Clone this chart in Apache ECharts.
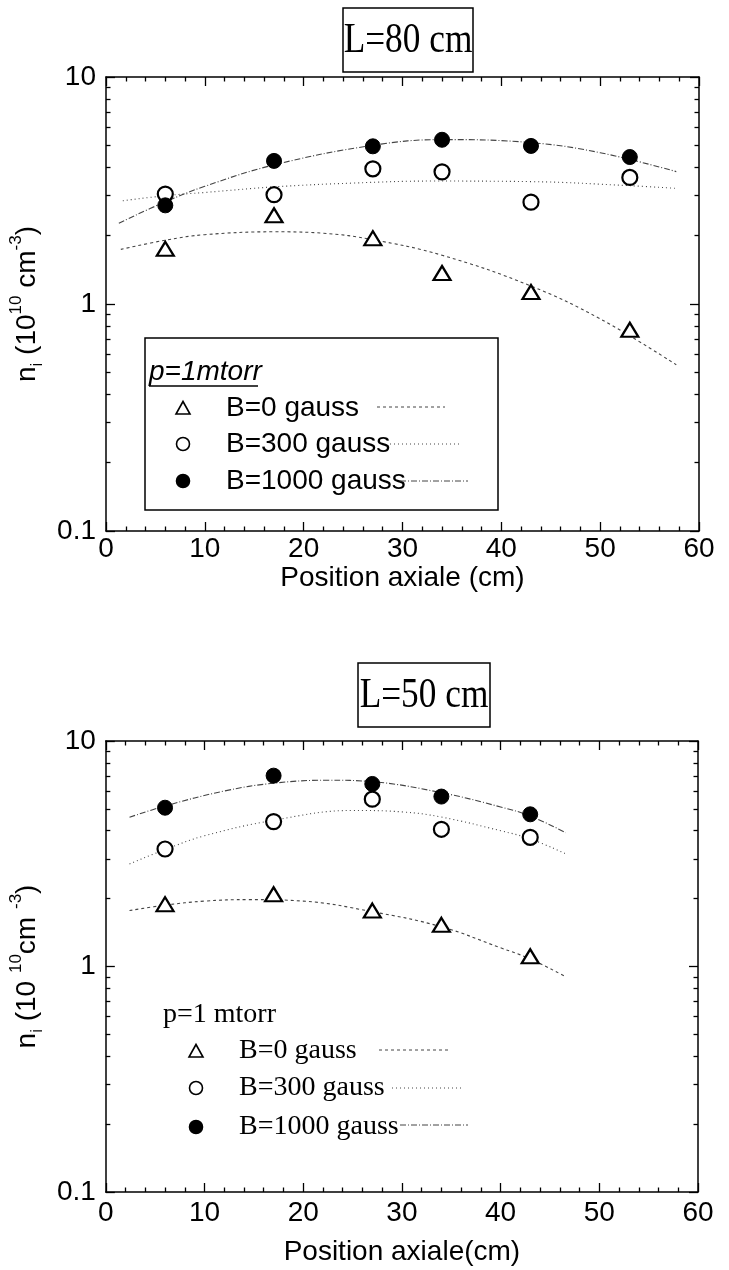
<!DOCTYPE html>
<html>
<head>
<meta charset="utf-8">
<script src="https://cdn.jsdelivr.net/npm/echarts@6/dist/echarts.min.js"></script>
<style>
  html, body { margin: 0; padding: 0; background: #fff; }
  #chart { width: 729px; height: 1270px; }
</style>
</head>
<body>
<div id="chart"></div>
<script>
// Axial ion density profiles, tube length L = 80 cm (top) and L = 50 cm (bottom)
const xTicks = [0, 10, 20, 30, 40, 50, 60];
const yMinorTicks = [0.2, 0.3, 0.4, 0.5, 0.6, 0.7, 0.8, 0.9, 2, 3, 4, 5, 6, 7, 8, 9];
const yMajorTicks = [0.1, 1, 10];

// L = 80 cm measurements
const pos80 = [6, 17, 27, 34, 43, 53];
const b0_80 = [1.75, 2.46, 1.95, 1.37, 1.13, 0.77];
const b300_80 = [3.05, 3.03, 3.94, 3.82, 2.81, 3.61];
const b1000_80 = [2.72, 4.27, 4.95, 5.29, 4.97, 4.44];

// L = 80 cm fitted curves (position, density)
const fitPos0_80 = [1.5, 6, 10, 17, 22, 27, 34, 43, 50, 57.7];
const fitVal0_80 = [1.74, 1.91, 2.02, 2.08, 2.05, 1.92, 1.64, 1.20, 0.86, 0.54];
const fitPos300_80 = [1.7, 6, 10, 17, 25, 33, 43, 53, 57.7];
const fitVal300_80 = [2.85, 3.0, 3.1, 3.28, 3.41, 3.48, 3.46, 3.32, 3.23];
const fitPos1000_80 = [1.3, 6, 10, 17, 27, 34, 43, 50, 57.7];
const fitVal1000_80 = [2.27, 2.82, 3.3, 4.1, 5.0, 5.3, 5.14, 4.64, 3.83];

// L = 50 cm measurements
const pos50 = [6, 17, 27, 34, 43];
const b0_50 = [1.89, 2.09, 1.77, 1.53, 1.11];
const b300_50 = [3.32, 4.39, 5.52, 4.06, 3.74];
const b1000_50 = [5.06, 7.02, 6.45, 5.67, 4.73];

// L = 50 cm fitted curves
const fitPos0_50 = [2.4, 6, 10, 14.5, 20, 27, 34, 40, 43, 46.6];
const fitVal0_50 = [1.77, 1.87, 1.95, 1.98, 1.95, 1.75, 1.5, 1.21, 1.08, 0.9];
const fitPos300_50 = [2.4, 6, 10, 17, 25, 30, 34, 40, 43, 46.6];
const fitVal300_50 = [2.85, 3.3, 3.8, 4.45, 4.92, 4.85, 4.6, 4.0, 3.68, 3.16];
const fitPos1000_50 = [2.4, 6, 12, 17, 22.5, 27, 34, 40, 43, 46.6];
const fitVal1000_50 = [4.59, 5.15, 6.0, 6.5, 6.7, 6.6, 5.9, 5.1, 4.65, 3.92];

const SANS = '"Liberation Sans", Arial, sans-serif';
const SERIF = '"Liberation Serif", "Times New Roman", serif';
const FIT_COLOR = '#444';
const DASH0 = [3, 3];
const DASH300 = [1, 3];
const DASH1000 = [6, 2, 1, 2];

const pairs = (xs, ys) => xs.map((x, i) => [x, ys[i]]);

const grids = [
  { left: 106, right: 30, top: 77, height: 454 },
  { left: 103, right: 31, top: 741, height: 451 }
];

function xAxes(gridIndex, labelMargin, nameGap, name) {
  const common = {
    gridIndex, type: 'value', min: 0, max: 60, interval: 10,
    splitLine: { show: false },
    axisLine: { show: true, lineStyle: { color: '#000', width: 1.5 } },
    axisTick: { show: true, inside: true, length: 9, lineStyle: { color: '#000', width: 1.3 } },
    minorTick: { show: true, splitNumber: 5, length: 4.5, lineStyle: { color: '#000', width: 1.3 } }
  };
  return [
    Object.assign({}, common, {
      position: 'bottom',
      name, nameLocation: 'middle', nameGap,
      nameTextStyle: { fontFamily: SANS, fontSize: 28, color: '#000' },
      axisLabel: { show: true, margin: labelMargin, fontFamily: SANS, fontSize: 28, color: '#000' }
    }),
    Object.assign({}, common, { position: 'top', axisLabel: { show: false } })
  ];
}

function yAxes(gridIndex, name) {
  const base = {
    gridIndex, type: 'log', logBase: 10, min: 0.1, max: 10,
    splitLine: { show: false }
  };
  const tickStyle = { color: '#000', width: 1.3 };
  const axes = [];
  ['left', 'right'].forEach(side => {
    axes.push(Object.assign({}, base, {
      position: side,
      axisLine: { show: true, lineStyle: { color: '#000', width: 1.5 } },
      axisTick: { show: true, inside: true, length: 9, customValues: yMajorTicks, lineStyle: tickStyle },
      axisLabel: side === 'left' ? {
        show: true, margin: 10, fontFamily: SANS, fontSize: 28, color: '#000',
        customValues: yMajorTicks,
        formatter: v => (v < 1 ? v.toFixed(1) : String(Math.round(v)))
      } : { show: false },
      name: side === 'left' ? name : '',
      nameLocation: 'middle', nameGap: 56,
      nameTextStyle: {
        color: '#000', fontFamily: SANS,
        rich: {
          m: { fontFamily: SANS, fontSize: 28, lineHeight: 38, color: '#000' },
          sub: { fontFamily: SANS, fontSize: 17, verticalAlign: 'bottom', lineHeight: 38, color: '#000' },
          sup: { fontFamily: SANS, fontSize: 17, verticalAlign: 'top', lineHeight: 38, color: '#000' }
        }
      }
    }));
    axes.push(Object.assign({}, base, {
      position: side,
      axisLine: { show: false },
      axisTick: { show: true, inside: true, length: 4.5, customValues: yMinorTicks, lineStyle: tickStyle },
      axisLabel: { show: false }
    }));
  });
  return axes;
}

function seriesFor(gridIndex, pos, v0, v300, v1000, f0, f300, f1000) {
  const xi = gridIndex * 2;
  const yi = gridIndex * 4;
  const fit = (data, dash, nm) => ({
    type: 'line', name: nm, xAxisIndex: xi, yAxisIndex: yi, data,
    smooth: 0.4, showSymbol: false, symbol: 'none', silent: true, z: 2,
    lineStyle: { color: FIT_COLOR, width: 1.1, type: dash }
  });
  const pts = (data, symbol, size, filled, nm) => ({
    type: 'scatter', name: nm, xAxisIndex: xi, yAxisIndex: yi, data,
    symbol, symbolSize: size, z: 5,
    itemStyle: filled
      ? { color: '#000', borderColor: '#000', borderWidth: 1, opacity: 1 }
      : { color: '#fff', borderColor: '#000', borderWidth: 2.2, opacity: 1 }
  });
  return [
    fit(f0, DASH0, 'fit B=0'),
    fit(f300, DASH300, 'fit B=300'),
    fit(f1000, DASH1000, 'fit B=1000'),
    pts(pairs(pos, v0), 'triangle', [17, 14], false, 'B=0 gauss'),
    pts(pairs(pos, v300), 'circle', 15, false, 'B=300 gauss'),
    pts(pairs(pos, v1000), 'circle', 15, true, 'B=1000 gauss')
  ];
}

// Boxed titles, legends and their line samples
function titleBox(x, y, w, h, text) {
  return [
    { type: 'rect', shape: { x, y, width: w, height: h }, style: { fill: '#fff', stroke: '#000', lineWidth: 1.5 }, z: 10 },
    { type: 'text', x: x + w / 2, y: y + h / 2 + 1, scaleX: 0.84, z: 11,
      style: { text, font: '42px ' + SERIF, fill: '#000', align: 'center', verticalAlign: 'middle' } }
  ];
}

function legendRows(symX, textX, rows, font) {
  const out = [];
  rows.forEach(r => {
    if (r.kind === 'tri') {
      out.push({ type: 'polygon', z: 11, shape: { points: [[symX, r.y - 6.5], [symX - 7, r.y + 6], [symX + 7, r.y + 6]] },
        style: { fill: '#fff', stroke: '#000', lineWidth: 1.6 } });
    } else {
      out.push({ type: 'circle', z: 11, shape: { cx: symX, cy: r.y, r: 6.5 },
        style: { fill: r.kind === 'full' ? '#000' : '#fff', stroke: '#000', lineWidth: 1.6 } });
    }
    out.push({ type: 'text', z: 11, x: textX, y: r.y,
      style: { text: r.label, font, fill: '#000', align: 'left', verticalAlign: 'middle' } });
    out.push({ type: 'line', z: 11, shape: { x1: r.x1, y1: r.ly, x2: r.x2, y2: r.ly },
      style: { stroke: FIT_COLOR, lineWidth: 1, lineDash: r.dash } });
  });
  return out;
}

const graphic = []
  .concat(titleBox(343, 8, 130, 64, 'L=80 cm'))
  .concat(titleBox(358, 663, 132, 64, 'L=50 cm'))
  .concat([
    { type: 'rect', z: 10, shape: { x: 145, y: 338, width: 353, height: 172 }, style: { fill: '#fff', stroke: '#000', lineWidth: 1.5 } },
    { type: 'text', z: 11, x: 149, y: 372, style: { text: 'p=1mtorr', font: 'italic 28px ' + SANS, fill: '#000', align: 'left', verticalAlign: 'middle' } },
    { type: 'line', z: 11, shape: { x1: 149, y1: 386, x2: 258, y2: 386 }, style: { stroke: '#000', lineWidth: 1.5 } },
    { type: 'text', z: 11, x: 163, y: 1015, style: { text: 'p=1 mtorr', font: '28px ' + SERIF, fill: '#000', align: 'left', verticalAlign: 'middle' } }
  ])
  .concat(legendRows(183, 226, [
    { kind: 'tri', y: 408, label: 'B=0 gauss', ly: 407, x1: 377, x2: 445, dash: DASH0 },
    { kind: 'open', y: 444, label: 'B=300 gauss', ly: 444, x1: 390, x2: 461, dash: DASH300 },
    { kind: 'full', y: 481, label: 'B=1000 gauss', ly: 481, x1: 400, x2: 468, dash: DASH1000 }
  ], '28px ' + SANS))
  .concat(legendRows(196, 239, [
    { kind: 'tri', y: 1051, label: 'B=0 gauss', ly: 1050, x1: 379, x2: 448, dash: DASH0 },
    { kind: 'open', y: 1088, label: 'B=300 gauss', ly: 1088, x1: 392, x2: 462, dash: DASH300 },
    { kind: 'full', y: 1127, label: 'B=1000 gauss', ly: 1125, x1: 400, x2: 468, dash: DASH1000 }
  ], '28px ' + SERIF));

const chart = echarts.init(document.getElementById('chart'), null, { renderer: 'canvas', width: 729, height: 1270 });
chart.setOption({
  animation: false,
  backgroundColor: '#fff',
  grid: grids,
  xAxis: xAxes(0, 4, 32, 'Position axiale (cm)').concat(xAxes(1, 7, 46, 'Position axiale(cm)')),
  yAxis: yAxes(0, '{m|n}{sub|i}{m| (10}{sup|10}{m| cm}{sup|-3}{m|)}')
    .concat(yAxes(1, '{m|n}{sub|i}{m| (10 }{sup|10}{m|cm }{sup|-3}{m|)}')),
  series: seriesFor(0, pos80, b0_80, b300_80, b1000_80,
      pairs(fitPos0_80, fitVal0_80), pairs(fitPos300_80, fitVal300_80), pairs(fitPos1000_80, fitVal1000_80))
    .concat(seriesFor(1, pos50, b0_50, b300_50, b1000_50,
      pairs(fitPos0_50, fitVal0_50), pairs(fitPos300_50, fitVal300_50), pairs(fitPos1000_50, fitVal1000_50))),
  graphic
});
</script>
</body>
</html>
